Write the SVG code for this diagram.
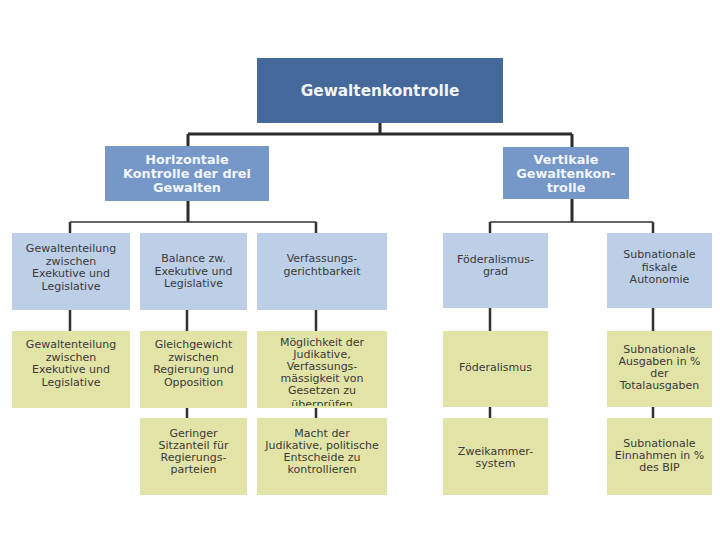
<svg xmlns="http://www.w3.org/2000/svg" width="720" height="540" viewBox="0 0 720 540">
<style>
.root{fill:#46699c}
.mid{fill:#7598c9}
.lb{fill:#bccfe6}
.yl{fill:#e2e3a6}
.t{font-family:"DejaVu Sans",Verdana,sans-serif;font-size:11px;fill:#3a3a3a;text-anchor:middle}
.tb{font-family:"DejaVu Sans",Verdana,sans-serif;font-weight:bold;font-size:12.8px;fill:#f2f5fa;text-anchor:middle}
.tr{font-family:"DejaVu Sans",Verdana,sans-serif;font-weight:bold;font-size:15.3px;fill:#f2f5fa;text-anchor:middle}
.c{fill:none;stroke:#2a2a2a;stroke-width:3}
.c2{fill:none;stroke:#333;stroke-width:1.5}
.c3{fill:none;stroke:#333;stroke-width:2.5}
</style>
<defs>
<clipPath id="clipM"><rect x="257" y="331" width="130" height="75"/></clipPath>
</defs>
<rect width="720" height="540" fill="#ffffff"/>
<g id="connectors">
<path class="c" d="M380 123V134M188 134H572M188 134V146M572 134V147"/>
<path class="c" d="M188 201V222M572 199V222"/>
<path class="c2" d="M70 222H316M490 222H653"/>
<path class="c3" d="M70 222V233M316 222V233M490 222V233M653 222V233"/>
<path class="c3" d="M70 310V331M187 310V331M316 310V331M490 308V331M653 308V331"/>
<path class="c3" d="M187 408V418M316 408V418M490 407V418M653 407V418"/>
</g>
<g id="root">
<rect class="root" x="257" y="58" width="246" height="65"/>
<text class="tr" x="380" y="96">Gewaltenkontrolle</text>
</g>
<g id="horizontal">
<rect class="mid" x="105" y="146" width="164" height="55"/>
<text class="tb" x="187" y="164">Horizontale</text>
<text class="tb" x="187" y="178">Kontrolle der drei</text>
<text class="tb" x="187" y="192">Gewalten</text>
</g>
<g id="vertikal">
<rect class="mid" x="503" y="147" width="126" height="52"/>
<text class="tb" x="566" y="164">Vertikale</text>
<text class="tb" x="566" y="178">Gewaltenkon-</text>
<text class="tb" x="566" y="192">trolle</text>
</g>
<g id="gewaltenteilung">
<rect class="lb" x="12" y="233" width="118" height="77"/>
<text class="t" x="71" y="252">Gewaltenteilung</text>
<text class="t" x="71" y="264.5">zwischen</text>
<text class="t" x="71" y="277">Exekutive und</text>
<text class="t" x="71" y="289.5">Legislative</text>
</g>
<g id="balance">
<rect class="lb" x="140" y="233" width="107" height="77"/>
<text class="t" x="193.5" y="262">Balance zw.</text>
<text class="t" x="193.5" y="274.5">Exekutive und</text>
<text class="t" x="193.5" y="287">Legislative</text>
</g>
<g id="verfassungsgericht">
<rect class="lb" x="257" y="233" width="130" height="77"/>
<text class="t" x="322" y="262">Verfassungs-</text>
<text class="t" x="322" y="274.5">gerichtbarkeit</text>
</g>
<g id="foederalismusgrad">
<rect class="lb" x="443" y="233" width="105" height="75"/>
<text class="t" x="495.5" y="263">Föderalismus-</text>
<text class="t" x="495.5" y="275">grad</text>
</g>
<g id="fiskale">
<rect class="lb" x="607" y="233" width="105" height="75"/>
<text class="t" x="659.5" y="258">Subnationale</text>
<text class="t" x="659.5" y="270.5">fiskale</text>
<text class="t" x="659.5" y="283">Autonomie</text>
</g>
<g id="y-gewaltenteilung">
<rect class="yl" x="12" y="331" width="118" height="77"/>
<text class="t" x="71" y="348">Gewaltenteilung</text>
<text class="t" x="71" y="360.5">zwischen</text>
<text class="t" x="71" y="373">Exekutive und</text>
<text class="t" x="71" y="385.5">Legislative</text>
</g>
<g id="y-gleichgewicht">
<rect class="yl" x="140" y="331" width="107" height="77"/>
<text class="t" x="193.5" y="348">Gleichgewicht</text>
<text class="t" x="193.5" y="360.5">zwischen</text>
<text class="t" x="193.5" y="373">Regierung und</text>
<text class="t" x="193.5" y="385.5">Opposition</text>
</g>
<g id="y-moeglichkeit">
<rect class="yl" x="257" y="331" width="130" height="77"/>
<g clip-path="url(#clipM)">
<text class="t" x="322" y="346">Möglichkeit der</text>
<text class="t" x="322" y="357.5">Judikative,</text>
<text class="t" x="322" y="370">Verfassungs-</text>
<text class="t" x="322" y="382">mässigkeit von</text>
<text class="t" x="322" y="394">Gesetzen zu</text>
<text class="t" x="322" y="408">überprüfen</text>
</g>
</g>
<g id="y-foederalismus">
<rect class="yl" x="443" y="331" width="105" height="76"/>
<text class="t" x="495.5" y="371">Föderalismus</text>
</g>
<g id="y-ausgaben">
<rect class="yl" x="607" y="331" width="105" height="76"/>
<text class="t" x="659.5" y="353">Subnationale</text>
<text class="t" x="659.5" y="365">Ausgaben in %</text>
<text class="t" x="659.5" y="377">der</text>
<text class="t" x="659.5" y="389">Totalausgaben</text>
</g>
<g id="y-geringer">
<rect class="yl" x="140" y="418" width="107" height="77"/>
<text class="t" x="193.5" y="437">Geringer</text>
<text class="t" x="193.5" y="449">Sitzanteil für</text>
<text class="t" x="193.5" y="461">Regierungs-</text>
<text class="t" x="193.5" y="473">parteien</text>
</g>
<g id="y-macht">
<rect class="yl" x="257" y="418" width="130" height="77"/>
<text class="t" x="322" y="437">Macht der</text>
<text class="t" x="322" y="449">Judikative, politische</text>
<text class="t" x="322" y="461">Entscheide zu</text>
<text class="t" x="322" y="473">kontrollieren</text>
</g>
<g id="y-zweikammer">
<rect class="yl" x="443" y="418" width="105" height="77"/>
<text class="t" x="495.5" y="455">Zweikammer-</text>
<text class="t" x="495.5" y="467">system</text>
</g>
<g id="y-einnahmen">
<rect class="yl" x="607" y="418" width="105" height="77"/>
<text class="t" x="659.5" y="447">Subnationale</text>
<text class="t" x="659.5" y="459">Einnahmen in %</text>
<text class="t" x="659.5" y="471">des BIP</text>
</g>
</svg>
